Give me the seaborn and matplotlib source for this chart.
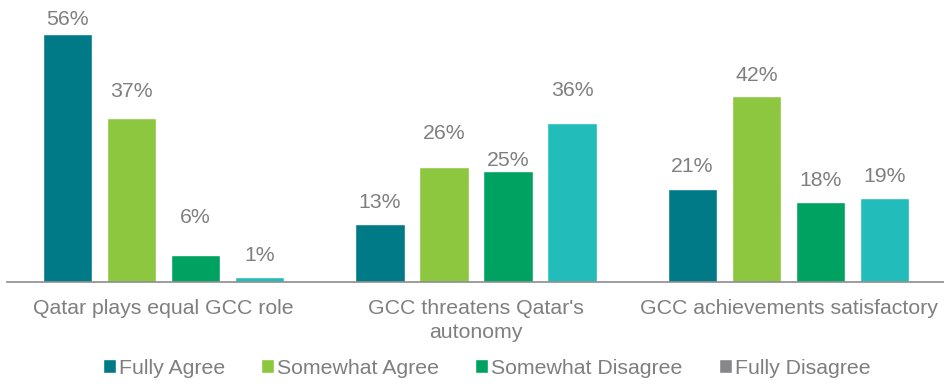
import pandas as pd
import numpy as np
import seaborn as sns
from matplotlib import pyplot as plt
from matplotlib.patches import Patch

# data
statements = ['Qatar plays equal GCC role', "GCC threatens Qatar's\nautonomy", 'GCC achievements satisfactory']
responses = ['Fully Agree', 'Somewhat Agree', 'Somewhat Disagree', 'Fully Disagree']
fully_agree = [56, 13, 21]
somewhat_agree = [37, 26, 42]
somewhat_disagree = [6, 25, 18]
fully_disagree = [1, 36, 19]

colors = ['#007A87', '#8DC63F', '#00A261', '#22BDBA']
legend_colors = ['#007A87', '#8DC63F', '#00A261', '#87868A']
grey = '#7F7F7F'
# the value labels sit at uneven heights in the original (px gap above each bar)
label_gap = [[9, 16, 17], [21, 28, 15], [32, 5, 16], [16, 27, 16]]

df = pd.DataFrame({
    'statement': statements * 4,
    'response': np.repeat(responses, 3),
    'value': fully_agree + somewhat_agree + somewhat_disagree + fully_disagree,
})

sns.set_style('white')
plt.rcParams['font.family'] = ['Liberation Sans', 'DejaVu Sans']
fs = 15.3

fig = plt.figure(figsize=(9.45, 3.84), dpi=100)
ax = fig.add_axes([0.0074, 0.266, 0.9926, 0.734])

sns.barplot(data=df, x='statement', y='value', hue='response', order=statements,
            hue_order=responses, palette=colors, width=0.82, gap=0.23,
            saturation=1, legend=False, ax=ax)

for cont, gaps in zip(ax.containers, label_gap):
    for bar, v, g in zip(cont, cont.datavalues, gaps):
        ax.annotate(f'{int(v)}%', (bar.get_x() + bar.get_width() / 2, bar.get_height()),
                    xytext=(0, (g - 4) * 0.72), textcoords='offset points',
                    ha='center', va='bottom', fontsize=fs, color=grey)

ax.set_xlim(-0.5, 2.5)
ax.set_ylim(0, 63.7)
ax.set_xlabel('')
ax.set_ylabel('')
ax.set_yticks([])
for s in ['top', 'right', 'left']:
    ax.spines[s].set_visible(False)
ax.spines['bottom'].set_color('#8C8C8C')
ax.spines['bottom'].set_linewidth(1.2)

ax.tick_params(axis='x', which='major', length=0, labelsize=fs, labelcolor=grey, pad=12.5)
for lab in ax.get_xticklabels():
    lab.set_linespacing(1.35)
ax.set_xticks([-0.5, 0.5, 1.5, 2.5], minor=True)
ax.tick_params(axis='x', which='minor', length=8, width=1.2, color='#8C8C8C', direction='out')

handles = [Patch(facecolor=c, label=r) for c, r in zip(legend_colors, responses)]
fig.legend(handles=handles, loc='center', bbox_to_anchor=(0.515, 1 - 368 / 384), ncol=4,
           frameon=False, fontsize=fs, labelcolor=grey, handlelength=0.6, handleheight=0.6,
           handletextpad=0.15, columnspacing=1.7, borderpad=0)

plt.savefig('out.png', dpi=100)
